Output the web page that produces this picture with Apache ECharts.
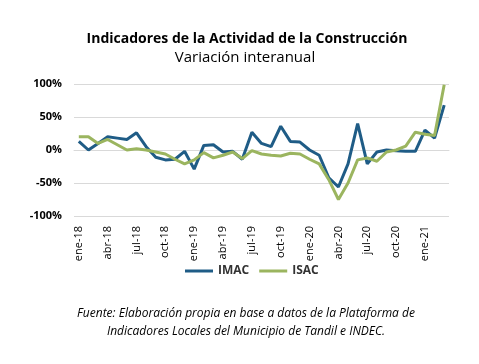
<!DOCTYPE html>
<html>
<head>
<meta charset="utf-8">
<script src="https://cdn.jsdelivr.net/npm/echarts@6/dist/echarts.min.js"></script>
<style>html,body{margin:0;padding:0;background:#fff}#c{width:479px;height:364px}</style>
</head>
<body>
<div id="c"></div>
<script>
const months = ["ene","feb","mar","abr","may","jun","jul","ago","sep","oct","nov","dic"];
const years = ["18","19","20","21"];
const categories = [];
for (const y of years) for (const m of months) categories.push(m + "-" + y);
categories.length = 39; // ene-18 .. mar-21

const imac = [13, 0, 10, 20, 18, 16, 26, 5, -11, -15, -14, -2, -29, 7, 8, -3, -2, -14, 27, 10,
  5, 36, 13, 12, 0, -8, -42, -56, -21, 40, -21, -3, 0, -1, -2, -2, 30, 18, 68];
const isac = [20, 20, 10, 16, 8, 0, 2, 0, -3, -6, -14, -21, -15, -4, -12, -8, -3, -13, -1, -6,
  -8, -9, -5, -6, -14, -21, -45, -75, -50, -15, -12, -17, -3, 0, 6, 27, 24, 22, 99];
const yTicks = [-100, -50, 0, 50, 100];

const chart = echarts.init(document.getElementById('c'));
chart.setOption({
  animation: false,
  title: [
    { text: "Indicadores de la Actividad de la Construcción", left: 242, top: 27, textAlign: 'center',
      textStyle: { fontFamily: 'Open Sans', fontWeight: 'bold', fontSize: 14, color: '#000' } },
    { text: "Variación interanual", left: 240, top: 45, textAlign: 'center',
      textStyle: { fontFamily: 'Open Sans', fontWeight: 'normal', fontSize: 15, color: '#000' } },
    { text: "Fuente: Elaboración propia en base a datos de la Plataforma de\nIndicadores Locales del Municipio de Tandil e INDEC.",
      left: 241, top: 300, textAlign: 'center',
      textStyle: { fontFamily: 'Open Sans', fontStyle: 'italic', fontWeight: 'normal', fontSize: 12, color: '#000', lineHeight: 18, align: 'center' } }
  ],
  legend: {
    top: 260, left: 180, itemWidth: 28, itemHeight: 3, itemGap: 10,
    icon: 'rect',
    textStyle: { fontFamily: 'Open Sans', fontWeight: 'bold', fontSize: 12, color: '#333' },
    data: ['IMAC', 'ISAC']
  },
  grid: { left: 74, right: 30, top: 84, bottom: 148 },
  xAxis: {
    type: 'category', data: categories, boundaryGap: true,
    axisLine: { show: true, lineStyle: { color: '#d9d9d9' } },
    axisTick: { show: false },
    axisLabel: { interval: 2, rotate: 90, margin: 10, fontFamily: 'Open Sans', fontSize: 11, color: '#000' }
  },
  yAxis: {
    type: 'value', min: yTicks[0], max: yTicks[yTicks.length - 1], interval: 50,
    axisLine: { show: false }, axisTick: { show: false },
    splitLine: { lineStyle: { color: '#d9d9d9', width: 1 } },
    axisLabel: { formatter: '{value}%', margin: 12, fontFamily: 'Open Sans', fontWeight: 'bold', fontSize: 11, color: '#000' }
  },
  series: [
    { name: 'IMAC', type: 'line', data: imac, symbol: 'none', lineStyle: { width: 3, color: '#1f5c86' }, itemStyle: { color: '#1f5c86' } },
    { name: 'ISAC', type: 'line', data: isac, symbol: 'none', lineStyle: { width: 3, color: '#9bb55f' }, itemStyle: { color: '#9bb55f' } }
  ]
});
</script>
</body>
</html>
